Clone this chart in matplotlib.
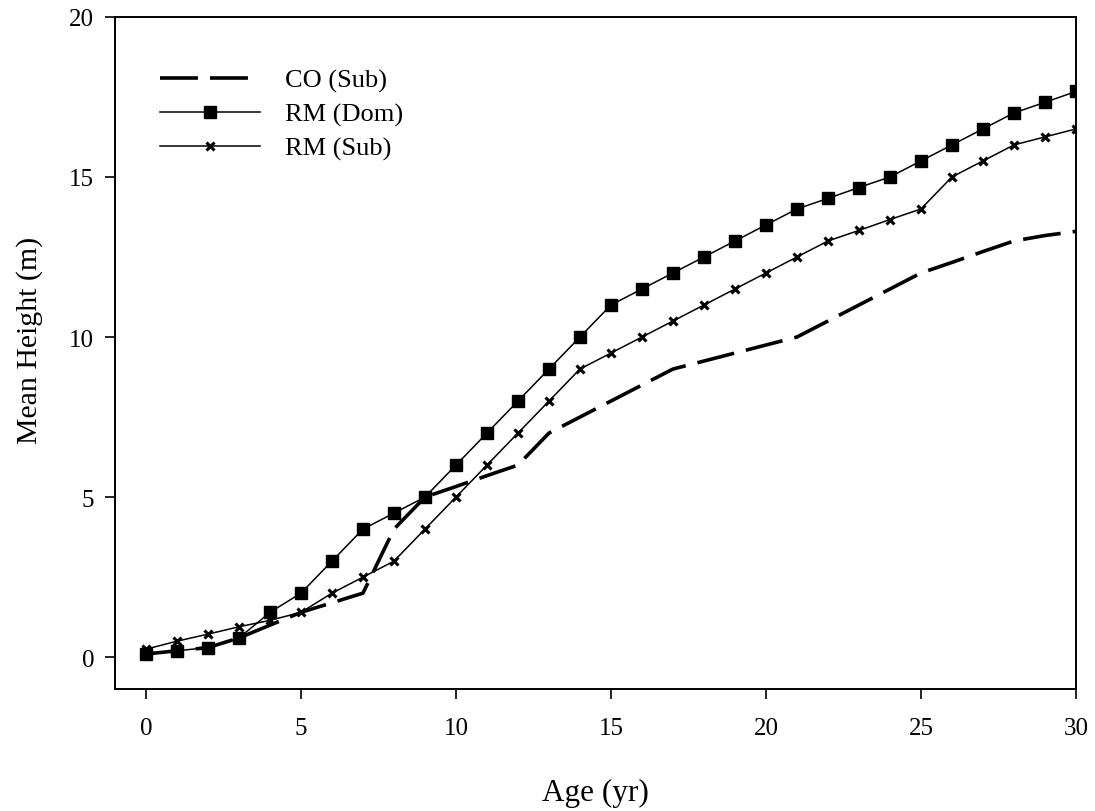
import matplotlib
matplotlib.use("Agg")
import matplotlib.pyplot as plt

plt.rcParams['font.family'] = ['Liberation Serif', 'DejaVu Serif']

# Age (yr)
age = list(range(0, 31))

# Mean height (m)
co_sub = [0.1, 0.2, 0.3, 0.6, 1.0, 1.4, 1.7, 2.0, 4.0, 5.0, 5.33, 5.67, 6.0, 7.0, 7.5,
          8.0, 8.5, 9.0, 9.25, 9.5, 9.75, 10.0, 10.5, 11.0, 11.5, 12.0, 12.33, 12.67,
          13.0, 13.17, 13.3]
rm_dom = [0.1, 0.2, 0.3, 0.6, 1.4, 2.0, 3.0, 4.0, 4.5, 5.0, 6.0, 7.0, 8.0, 9.0, 10.0,
          11.0, 11.5, 12.0, 12.5, 13.0, 13.5, 14.0, 14.33, 14.67, 15.0, 15.5, 16.0, 16.5,
          17.0, 17.33, 17.67]
rm_sub = [0.25, 0.5, 0.72, 0.95, 1.15, 1.4, 2.0, 2.5, 3.0, 4.0, 5.0, 6.0, 7.0, 8.0, 9.0,
          9.5, 10.0, 10.5, 11.0, 11.5, 12.0, 12.5, 13.0, 13.33, 13.67, 14.0, 15.0, 15.5,
          16.0, 16.25, 16.5]

fig = plt.figure(figsize=(10.95, 8.12), dpi=100)
ax = fig.add_axes([0.105, 0.150, 0.8776, 0.828])

ax.plot(age, co_sub, color='black', lw=2.6, linestyle=(0, (10.5, 3.35)), label='CO (Sub)')
ax.plot(age, rm_dom, color='black', lw=1.1, marker='s', markersize=8.5, label='RM (Dom)')
ax.plot(age, rm_sub, color='black', lw=1.1, marker='x', markersize=6, mew=2.2,
        label='RM (Sub)')

ax.set_xlim(-1, 30)
ax.set_ylim(-1, 20)
ax.set_xticks([0, 5, 10, 15, 20, 25, 30])
ax.set_yticks([0, 5, 10, 15, 20])
ax.tick_params(direction='out', length=7, width=1.2, labelsize=18, pad=8)
ax.tick_params(axis='x', pad=13)
for s in ax.spines.values():
    s.set_linewidth(1.4)

ax.set_xlabel('Age (yr)', fontsize=22.5, labelpad=28)
ax.set_ylabel('Mean Height (m)', fontsize=21.5, labelpad=14)
ax.yaxis.set_label_coords(-0.075, 0.52)

ax.legend(loc='upper left', bbox_to_anchor=(0.036, 0.939), frameon=False, fontsize=19,
          handlelength=3.8, handletextpad=0.95, labelspacing=0.38, borderaxespad=0)

fig.savefig('out.png', dpi=100)
